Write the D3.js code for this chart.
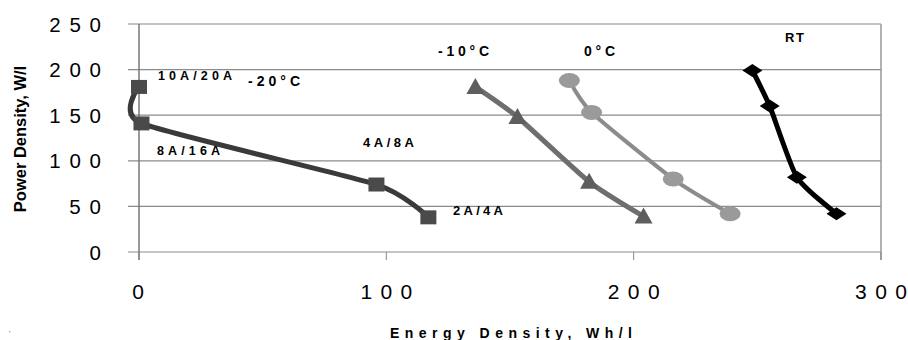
<!DOCTYPE html>
<html>
<head>
<meta charset="utf-8">
<script src="https://cdnjs.cloudflare.com/ajax/libs/d3/7.8.5/d3.min.js"></script>
<style>
  body { margin: 0; background: #fff; }
  svg { display: block; font-family: "Liberation Sans", Arial, sans-serif; }
</style>
</head>
<body>
<svg id="chart" width="908" height="340"></svg>
<script>
// values
const energyM20 = [0, 1, 96, 117]
const powerM20 = [181, 141, 74, 38]
const energyM10 = [136, 153, 182, 204]
const powerM10 = [181, 148, 77, 39]
const energy0 = [174, 183, 216, 239]
const power0 = [188, 153, 80, 42]
const energyRT = [248, 255, 266, 282]
const powerRT = [199, 160, 82, 42]

const seriesNames = ["-20°C", "-10°C", "0°C", "RT"]
const rateLabels = ["10A/20A", "8A/16A", "4A/8A", "2A/4A"]
const xTicks = [0, 100, 200, 300]
const yTicks = [0, 50, 100, 150, 200, 250]

const svg = d3.select('#chart')
const x = d3.scaleLinear().domain([0, 300]).range([139, 881])
const y = d3.scaleLinear().domain([0, 250]).range([252, 24])

// grid + frame
svg.append('g').selectAll('line').data(yTicks).join('line')
  .attr('x1', 128).attr('x2', x(300))
  .attr('y1', d => y(d)).attr('y2', d => y(d))
  .attr('stroke', '#8a8a8a').attr('stroke-width', 1.2)
svg.append('line').attr('x1', x(0)).attr('x2', x(0)).attr('y1', y(250)).attr('y2', 260)
  .attr('stroke', '#777').attr('stroke-width', 1.5)
svg.append('line').attr('x1', x(300)).attr('x2', x(300)).attr('y1', y(250)).attr('y2', 260)
  .attr('stroke', '#999').attr('stroke-width', 1.5)
svg.append('g').selectAll('line').data(xTicks).join('line')
  .attr('x1', d => x(d)).attr('x2', d => x(d)).attr('y1', y(0)).attr('y2', 260)
  .attr('stroke', '#888').attr('stroke-width', 1)

// tick labels, spread like the original (no trailing gap)
const spread = s => String(s).length * 11.6 + (String(s).length - 1) * 8.5
svg.append('g').selectAll('text').data(yTicks).join('text')
  .attr('x', 101).attr('y', d => y(d) + 7.5)
  .attr('text-anchor', 'end')
  .attr('font-size', 20.5)
  .attr('textLength', d => String(d).length > 1 ? spread(d) : null)
  .attr('lengthAdjust', 'spacing')
  .text(d => d)
svg.append('g').selectAll('text').data(xTicks).join('text')
  .attr('x', d => x(d) - (d > 0 ? 0 : 1)).attr('y', 299)
  .attr('text-anchor', 'middle')
  .attr('font-size', 21)
  .attr('textLength', d => String(d).length > 1 ? spread(d) : null)
  .attr('lengthAdjust', 'spacing')
  .text(d => d)

// axis titles
svg.append('text')
  .attr('transform', 'translate(26,139) rotate(-90)')
  .attr('text-anchor', 'middle')
  .attr('font-family', '"Liberation Sans Narrow", Arial, sans-serif')
  .attr('font-weight', 'bold').attr('font-size', 16.5)
  .text('Power Density, W/l')
svg.append('text')
  .attr('x', 511).attr('y', 338)
  .attr('text-anchor', 'middle')
  .attr('font-weight', 'bold').attr('font-size', 14)
  .attr('textLength', 242).attr('lengthAdjust', 'spacing')
  .text('Energy Density, Wh/l')
svg.append('text').attr('x', 9).attr('y', 336).attr('font-size', 8).attr('fill', '#555').text("'")

// series
const line = d3.line().x(d => x(d[0])).y(d => y(d[1])).curve(d3.curveCardinal.tension(0.4))
const sets = [
  { pts: d3.zip(energyM20, powerM20), stroke: '#3a3a3a', fill: '#4a4a4a', w: 5, shape: 'square' },
  { pts: d3.zip(energyM10, powerM10), stroke: '#6e6e6e', fill: '#5e5e5e', w: 5, shape: 'triangle' },
  { pts: d3.zip(energy0, power0), stroke: '#8c8c8c', fill: '#9a9a9a', w: 4, shape: 'circle' },
  { pts: d3.zip(energyRT, powerRT), stroke: '#000', fill: '#000', w: 5, shape: 'diamond' },
]
const shapes = {
  square: 'M-8,-7H8V7H-8Z',
  triangle: 'M0,-9L9,7H-9Z',
  circle: 'M-10.5,0A10.5,7.5 0 1,0 10.5,0A10.5,7.5 0 1,0 -10.5,0Z',
  diamond: 'M-10,0L0,-6.5L10,0L0,6.5Z',
}
sets.forEach(s => {
  svg.append('path').datum(s.pts).attr('d', line)
    .attr('fill', 'none').attr('stroke', s.stroke).attr('stroke-width', s.w)
  svg.append('g').selectAll('path').data(s.pts).join('path')
    .attr('transform', d => `translate(${x(d[0])},${y(d[1])})`)
    .attr('d', shapes[s.shape]).attr('fill', s.fill)
})

// annotations
const ann = [
  { t: rateLabels[0], x: 158, y: 80, fs: 12.5, w: 74 },
  { t: seriesNames[0], x: 248, y: 86, fs: 14, w: 52 },
  { t: rateLabels[1], x: 157, y: 155, fs: 12.5, w: 63 },
  { t: rateLabels[2], x: 363, y: 147, fs: 13, w: 51 },
  { t: rateLabels[3], x: 453, y: 215, fs: 13, w: 50 },
  { t: seriesNames[1], x: 438, y: 56, fs: 14, w: 51 },
  { t: seriesNames[2], x: 584, y: 56, fs: 14, w: 31 },
  { t: seriesNames[3], x: 785, y: 42, fs: 13, w: 19 },
]
svg.append('g').selectAll('text').data(ann).join('text')
  .attr('x', d => d.x).attr('y', d => d.y)
  .attr('font-weight', 'bold').attr('font-size', d => d.fs)
  .attr('textLength', d => d.w).attr('lengthAdjust', 'spacing')
  .text(d => d.t)
</script>
</body>
</html>
